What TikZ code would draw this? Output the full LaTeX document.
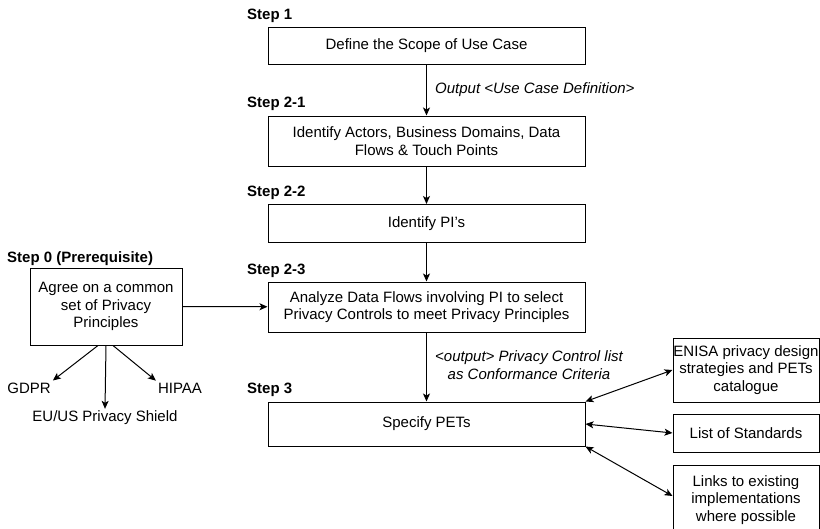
\documentclass[tikz,border=0pt]{standalone}
\usepackage{fontspec}
\setmainfont{Liberation Sans}
\usetikzlibrary{arrows.meta}
\begin{document}
\begin{tikzpicture}[x=1pt,y=-1pt,
  font=\fontsize{15}{17.5}\selectfont,
  box/.style={draw, line width=1pt, align=center, inner sep=0pt},
  steplabel/.style={anchor=base west, inner sep=0pt, font=\fontsize{15}{17.5}\selectfont\bfseries},
  note/.style={inner sep=0pt, align=center, font=\fontsize{15}{17.5}\selectfont\itshape},
  plain/.style={inner sep=2pt},
  flow/.style={line width=1pt, -{Stealth[length=8pt,width=7pt,inset=2pt]}},
  both/.style={line width=1pt, {Stealth[length=8pt,width=7pt,inset=2pt]}-{Stealth[length=8pt,width=7pt,inset=2pt]}}]
\useasboundingbox (0,0) rectangle (820,528);

% main process column
\node[box, minimum width=317pt, minimum height=37pt] (s1) at (426.5,45.5) {Define the Scope of Use Case};
\node[box, minimum width=317pt, minimum height=50pt] (s21) at (426.5,141) {Identify Actors, Business Domains, Data\\Flows \& Touch Points};
\node[box, minimum width=317pt, minimum height=38pt] (s22) at (426.5,223.5) {Identify PI's};
\node[box, minimum width=317pt, minimum height=50pt] (s23) at (426.5,307) {Analyze Data Flows involving PI to select\\Privacy Controls to meet Privacy Principles};
\node[box, minimum width=317pt, minimum height=44pt] (s3) at (426.5,424) {Specify PETs};

% step titles
\node[steplabel] (t1) at (247,19) {Step 1};
\node[steplabel] (t21) at (247,107) {Step 2-1};
\node[steplabel] (t22) at (247,196) {Step 2-2};
\node[steplabel] (t23) at (247,274) {Step 2-3};
\node[steplabel] (t3) at (247,393) {Step 3};
\node[steplabel] (t0) at (7,262) {Step 0 (Prerequisite)};

% prerequisite and its sources
\node[box, minimum width=152pt, minimum height=77pt] (s0) at (106,306.5) {Agree on a common\\set of Privacy\\Principles};
\node[plain] (gdpr) at (29,388) {GDPR};
\node[plain] (hipaa) at (180,388) {HIPAA};
\node[plain] (shield) at (105,418) {EU/US Privacy Shield};

% reference material (the last box runs past the lower edge)
\node[box, minimum width=146pt, minimum height=64pt] (enisa) at (746,370) {ENISA privacy design\\strategies and PETs\\catalogue};
\node[box, minimum width=146pt, minimum height=38pt] (stds) at (746,433) {List of Standards};
\node[box, minimum width=146pt, minimum height=70pt] (links) at (746,500) {Links to existing\\implementations\\where possible};

% flow
\draw[flow] (s1) -- (s21);
\draw[flow] (s21) -- (s22);
\draw[flow] (s22) -- (s23);
\draw[flow] (s23) -- (s3);
\draw[flow] (s0) -- (s23);

\draw[flow] ([xshift=-8pt]s0.south) -- (gdpr.north east);
\draw[flow] (s0.south) -- (shield.north);
\draw[flow] ([xshift=7pt]s0.south) -- (hipaa.north west);

\draw[both] (s3.north east) -- (enisa.west);
\draw[both] (s3.east) -- (stds.west);
\draw[both] (s3.south east) -- ([yshift=4pt]links.west);

% connector notes
\node[note, anchor=base west] (n1) at (435,93) {Output <Use Case Definition>};
\node[note] (n2) at (529,365) {<output> Privacy Control list\\as Conformance Criteria};
\end{tikzpicture}
\end{document}
